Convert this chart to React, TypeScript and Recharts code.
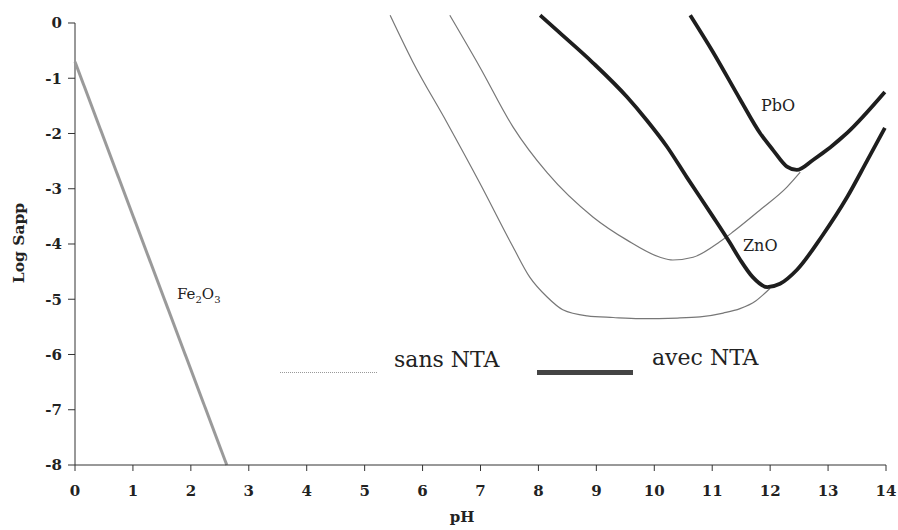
import { LineChart, Line, XAxis, YAxis, ReferenceLine } from "recharts"

// pH values and log Sapp for each curve
const feX = [0, 2.62]
const feY = [-0.7, -8]

const znSansX = [5.44, 5.83, 6.42, 6.99, 7.56, 7.85, 8.15, 8.42, 8.84, 9.29, 9.75, 10.4, 10.79, 11.19, 11.48, 11.75, 12.0]
const znSansY = [0.14, -0.7, -1.8, -2.9, -4.05, -4.6, -4.96, -5.19, -5.3, -5.33, -5.35, -5.34, -5.32, -5.25, -5.17, -5.03, -4.8]

const pbSansX = [6.47, 6.99, 7.56, 8.15, 8.94, 9.53, 10.1, 10.32, 10.67, 11.13, 11.36, 11.83, 12.29, 12.52]
const pbSansY = [0.14, -0.8, -1.88, -2.71, -3.51, -3.93, -4.24, -4.29, -4.24, -3.96, -3.78, -3.38, -2.97, -2.7]

const znAvecX = [8.03, 8.37, 8.94, 9.53, 9.87, 10.22, 10.56, 11.01, 11.3, 11.48, 11.7, 11.95, 12.17, 12.46, 12.9, 13.33, 13.67, 13.98]
const znAvecY = [0.14, -0.18, -0.72, -1.34, -1.76, -2.24, -2.79, -3.5, -3.97, -4.28, -4.6, -4.78, -4.72, -4.47, -3.85, -3.15, -2.5, -1.9]

const pbAvecX = [10.62, 11.01, 11.48, 11.83, 12.05, 12.29, 12.46, 12.74, 13.33, 13.98]
const pbAvecY = [0.14, -0.52, -1.38, -2.0, -2.3, -2.6, -2.66, -2.48, -1.99, -1.25]

const xTicks = [0, 1, 2, 3, 4, 5, 6, 7, 8, 9, 10, 11, 12, 13, 14]
const yTicks = [0, -1, -2, -3, -4, -5, -6, -7, -8]

const toPoints = (xs: number[], ys: number[]) => xs.map((x, i) => ({ x, y: ys[i] }))

const serif = "DejaVu Serif"
const tickStyle = { fontFamily: serif, fontSize: 15, fontWeight: 700, fill: "#222" }

export default function App() {
  return (
    <div style={{ position: "absolute", left: 0, top: 0, width: 898, height: 530, background: "#fff", fontFamily: serif, color: "#222" }}>
      <LineChart width={898} height={530} margin={{ top: 14.7, right: 12, bottom: 35, left: 0 }}>
        <XAxis
          type="number"
          dataKey="x"
          domain={[0, 14]}
          ticks={xTicks}
          interval={0}
          height={30}
          tick={tickStyle}
          tickSize={6}
          tickMargin={14}
          stroke="#333"
          allowDuplicatedCategory={false}
        />
        <YAxis
          type="number"
          dataKey="y"
          domain={[-8, 0.15]}
          ticks={yTicks}
          interval={0}
          width={75}
          tick={tickStyle}
          tickSize={7}
          tickMargin={6}
          axisLine={false}
          stroke="#333"
        />
        <ReferenceLine segment={[{ x: 0, y: 0 }, { x: 0, y: -8 }]} stroke="#333" strokeWidth={1} />
        <Line data={toPoints(feX, feY)} dataKey="y" type="linear" stroke="#9a9a9a" strokeWidth={3} dot={false} isAnimationActive={false} />
        <Line data={toPoints(znSansX, znSansY)} dataKey="y" type="monotone" stroke="#777" strokeWidth={1.2} dot={false} isAnimationActive={false} />
        <Line data={toPoints(pbSansX, pbSansY)} dataKey="y" type="monotone" stroke="#777" strokeWidth={1.2} dot={false} isAnimationActive={false} />
        <Line data={toPoints(znAvecX, znAvecY)} dataKey="y" type="monotone" stroke="#1e1e1e" strokeWidth={3.8} dot={false} isAnimationActive={false} />
        <Line data={toPoints(pbAvecX, pbAvecY)} dataKey="y" type="monotone" stroke="#1e1e1e" strokeWidth={3.8} dot={false} isAnimationActive={false} />
      </LineChart>

      {/* axis titles */}
      <div style={{ position: "absolute", left: 462, top: 508, transform: "translateX(-50%)", fontWeight: 700, fontSize: 15 }}>pH</div>
      <div style={{ position: "absolute", left: 18, top: 243, transform: "translate(-50%, -50%) rotate(-90deg)", fontWeight: 700, fontSize: 15.5, whiteSpace: "nowrap" }}>Log Sapp</div>

      {/* curve labels */}
      <div style={{ position: "absolute", left: 177, top: 285, fontSize: 15 }}>
        Fe<sub style={{ fontSize: 10 }}>2</sub>O<sub style={{ fontSize: 10 }}>3</sub>
      </div>
      <div style={{ position: "absolute", left: 761, top: 96, fontSize: 16 }}>PbO</div>
      <div style={{ position: "absolute", left: 743, top: 236, fontSize: 16 }}>ZnO</div>

      {/* legend */}
      <div style={{ position: "absolute", left: 280, top: 372, width: 97, height: 0, borderTop: "1.5px dotted #999" }} />
      <div style={{ position: "absolute", left: 394, top: 347, fontSize: 22 }}>sans NTA</div>
      <div style={{ position: "absolute", left: 537, top: 370, width: 96, height: 5, background: "#444" }} />
      <div style={{ position: "absolute", left: 652, top: 345, fontSize: 22 }}>avec NTA</div>
    </div>
  )
}
